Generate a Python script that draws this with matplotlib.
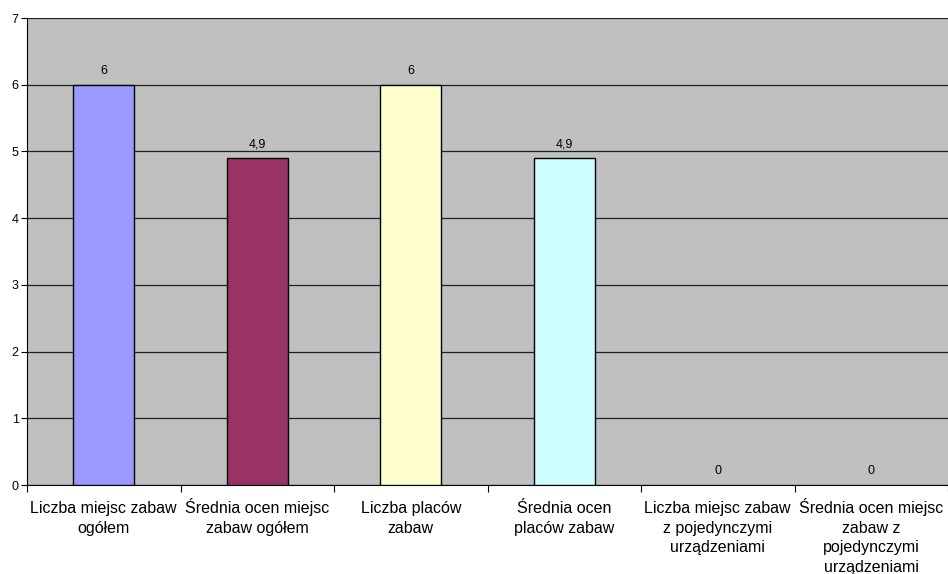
import numpy as np
import matplotlib
matplotlib.use("Agg")
import matplotlib.pyplot as plt
from matplotlib.transforms import offset_copy

plt.rcParams['font.family'] = ['Liberation Sans', 'DejaVu Sans']

categories = [
    "Liczba miejsc zabaw\nogółem",
    "Średnia ocen miejsc\nzabaw ogółem",
    "Liczba placów\nzabaw",
    "Średnia ocen\nplaców zabaw",
    "Liczba miejsc zabaw\nz pojedynczymi\nurządzeniami",
    "Średnia ocen miejsc\nzabaw z\npojedynczymi\nurządzeniami",
]
values = [6, 4.9, 6, 4.9, 0, 0]
value_labels = ["6", "4,9", "6", "4,9", "0", "0"]
colors = ["#9999FF", "#993366", "#FFFFCC", "#CCFFFF", "#9999FF", "#993366"]

W, H = 948, 574
fig = plt.figure(figsize=(W / 100, H / 100), dpi=100)
ax = fig.add_axes([27 / W, 1 - 485 / H, 1 - 27 / W, (485 - 18) / H])
ax.set_facecolor("#C0C0C0")

x = np.arange(len(categories))
# zero-height bars show no outline in the original
lws = [1 if v else 0 for v in values]
ax.bar(x, values, width=0.4, color=colors, edgecolor="black", linewidth=lws, zorder=3)

for xi, v, lab in zip(x, values, value_labels):
    ax.text(xi, v + 0.12, lab, ha="center", va="bottom", fontsize=9, zorder=4)

ax.set_xlim(-0.5, len(categories) - 0.5)
ax.set_ylim(0, 7)
ax.set_yticks(range(0, 8))
ax.yaxis.grid(True, color="#202020", linewidth=0.9, zorder=0)
ax.set_axisbelow(True)

# category boundary ticks, labels centred between them
ax.set_xticks(np.arange(-0.5, len(categories)))
ax.set_xticklabels([])
ax.tick_params(axis="x", length=5, direction="out")
ax.tick_params(axis="y", labelsize=9, length=4, direction="out", pad=2)

# x labels: one text per line, baselines 20 px apart
base = ax.get_xaxis_transform()
for xi, cat in zip(x, categories):
    for k, line in enumerate(cat.split("\n")):
        tr = offset_copy(base, fig=fig, x=0, y=-(28 + 19.7 * k), units="dots")
        ax.text(xi, 0, line, transform=tr, ha="center", va="baseline",
                fontsize=11.5, clip_on=False)

for side in ["top", "right"]:
    ax.spines[side].set_visible(False)
ax.spines["left"].set_color("black")
ax.spines["bottom"].set_color("black")

fig.savefig("out.png", dpi=100)
